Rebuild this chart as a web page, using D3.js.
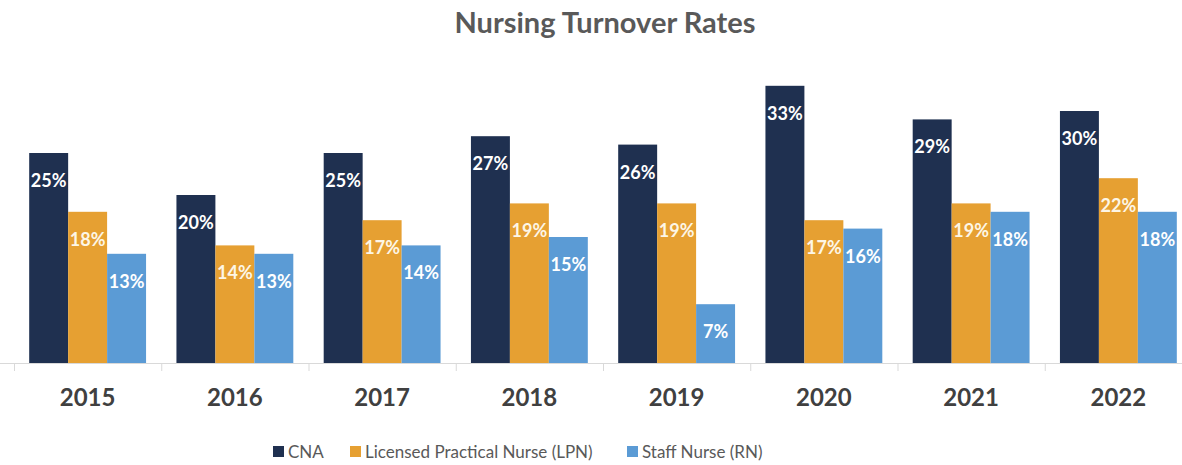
<!DOCTYPE html>
<html>
<head>
<meta charset="utf-8">
<script src="https://cdn.jsdelivr.net/npm/d3@7"></script>
<style>
  body { margin: 0; background: #fff; }
  svg { display: block; font-family: Lato, "Open Sans", sans-serif; }
</style>
</head>
<body>
<svg id="chart" width="1182" height="465"></svg>
<script>
const years = ["2015", "2016", "2017", "2018", "2019", "2020", "2021", "2022"];
const seriesNames = ["CNA", "Licensed Practical Nurse (LPN)", "Staff Nurse (RN)"];
const cna = [25, 20, 25, 27, 26, 33, 29, 30];
const lpn = [18, 14, 17, 19, 19, 17, 19, 22];
const rn = [13, 13, 14, 15, 7, 16, 18, 18];
const colors = ["#1f3050", "#e6a032", "#5b9bd5"];

const svg = d3.select("#chart");
const baseY = 363;

const rows = years.map((y, i) => ({year: y, values: [cna[i], lpn[i], rn[i]]}));

const x0 = d3.scaleBand()
    .domain(years)
    .range([14, 1192])
    .paddingInner(0)
    .paddingOuter(0);

const x1 = d3.scaleBand()
    .domain([0, 1, 2])
    .range([0, x0.bandwidth()])
    .paddingOuter(0.39)
    .paddingInner(0);

const yScale = d3.scaleLinear()
    .domain([0, 35])
    .range([baseY, baseY - 35 * 8.4]);

// title
svg.append("text")
    .attr("x", 605)
    .attr("y", 33)
    .attr("text-anchor", "middle")
    .attr("font-size", 29)
    .attr("font-weight", 700)
    .attr("fill", "#595959")
    .text("Nursing Turnover Rates");

// axis
const xAxis = d3.axisBottom(x0).tickSize(0).tickFormat("");
const axisG = svg.append("g")
    .attr("transform", "translate(0," + baseY + ")")
    .call(xAxis);
axisG.select(".domain").attr("stroke", "#d9d9d9").attr("d", "M0,0.5H1182");
axisG.selectAll(".sep")
    .data(years)
    .enter().append("line")
    .attr("class", "sep")
    .attr("x1", d => x0(d) + 0.5)
    .attr("x2", d => x0(d) + 0.5)
    .attr("y1", 0)
    .attr("y2", 8)
    .attr("stroke", "#d9d9d9");

svg.selectAll(".yearLabel")
    .data(years)
    .enter().append("text")
    .attr("class", "yearLabel")
    .attr("x", d => x0(d) + x0.bandwidth() / 2)
    .attr("y", 406)
    .attr("text-anchor", "middle")
    .attr("font-size", 24)
    .attr("font-weight", 700)
    .attr("fill", "#404040")
    .text(d => d);

// bars
const groups = svg.selectAll(".grp")
    .data(rows)
    .enter().append("g")
    .attr("class", "grp")
    .attr("transform", d => "translate(" + x0(d.year) + ",0)");

groups.selectAll("rect")
    .data(d => d.values.map((v, k) => ({v, k})))
    .enter().append("rect")
    .attr("x", d => x1(d.k))
    .attr("y", d => yScale(d.v))
    .attr("width", x1.bandwidth())
    .attr("height", d => baseY - yScale(d.v))
    .attr("fill", d => colors[d.k]);

groups.selectAll(".val")
    .data(d => d.values.map((v, k) => ({v, k})))
    .enter().append("text")
    .attr("class", "val")
    .attr("x", d => x1(d.k) + x1.bandwidth() / 2)
    .attr("y", d => yScale(d.v) + 34)
    .attr("text-anchor", "middle")
    .attr("font-size", 18)
    .attr("font-weight", 700)
    .attr("fill", d => d.k === 1 ? "#fdf6e6" : "#ffffff")
    .text(d => d.v + "%");

// legend
const legendX = [273, 350, 627];
const legend = svg.selectAll(".leg")
    .data(seriesNames)
    .enter().append("g")
    .attr("class", "leg")
    .attr("transform", (d, i) => "translate(" + legendX[i] + ",446)");
legend.append("rect")
    .attr("width", 11)
    .attr("height", 11)
    .attr("fill", (d, i) => colors[i]);
legend.append("text")
    .attr("x", 15)
    .attr("y", 12)
    .attr("font-size", 17)
    .attr("fill", "#595959")
    .text(d => d);
</script>
</body>
</html>
